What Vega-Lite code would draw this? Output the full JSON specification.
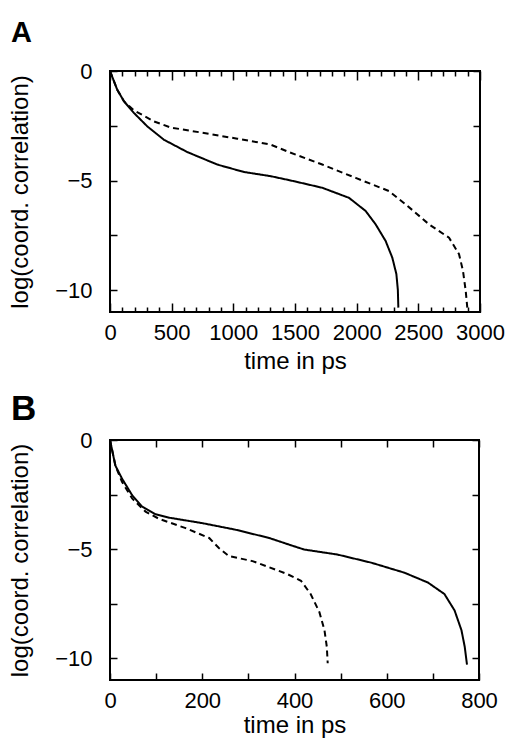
{
  "$schema": "https://vega.github.io/schema/vega-lite/v6.json",
  "background": "white",
  "padding": {"left": 7, "top": 18, "right": 10, "bottom": 0},
  "spacing": 17,
  "config": {
    "font": "Liberation Sans",
    "view": {"stroke": "black", "strokeWidth": 2},
    "axis": {
      "grid": false, "domain": false,
      "labelFont": "Liberation Sans", "labelFontSize": 22, "labelColor": "black",
      "titleFont": "Liberation Sans", "titleFontSize": 24, "titleFontWeight": "normal", "titleColor": "black",
      "tickColor": "black", "tickWidth": 1.5,
      "labelFlush": false, "labelOverlap": false, "minExtent": 0
    },
    "title": {"font": "Liberation Sans", "fontWeight": "bold", "color": "black", "anchor": "start", "frame": "group"}
  },
  "datasets": {
    "A": [
      {"t": 0, "v": 0, "s": "solid"},
      {"t": 59, "v": -0.86, "s": "solid"},
      {"t": 114, "v": -1.39, "s": "solid"},
      {"t": 195, "v": -1.92, "s": "solid"},
      {"t": 303, "v": -2.53, "s": "solid"},
      {"t": 438, "v": -3.14, "s": "solid"},
      {"t": 627, "v": -3.7, "s": "solid"},
      {"t": 870, "v": -4.27, "s": "solid"},
      {"t": 1086, "v": -4.61, "s": "solid"},
      {"t": 1303, "v": -4.8, "s": "solid"},
      {"t": 1492, "v": -5.03, "s": "solid"},
      {"t": 1721, "v": -5.33, "s": "solid"},
      {"t": 1938, "v": -5.79, "s": "solid"},
      {"t": 2073, "v": -6.39, "s": "solid"},
      {"t": 2154, "v": -7.0, "s": "solid"},
      {"t": 2235, "v": -7.76, "s": "solid"},
      {"t": 2289, "v": -8.52, "s": "solid"},
      {"t": 2322, "v": -9.27, "s": "solid"},
      {"t": 2334, "v": -10.0, "s": "solid"},
      {"t": 2338, "v": -10.8, "s": "solid"},
      {"t": 0, "v": 0, "s": "dashed"},
      {"t": 59, "v": -0.86, "s": "dashed"},
      {"t": 114, "v": -1.39, "s": "dashed"},
      {"t": 195, "v": -1.8, "s": "dashed"},
      {"t": 357, "v": -2.3, "s": "dashed"},
      {"t": 492, "v": -2.58, "s": "dashed"},
      {"t": 762, "v": -2.83, "s": "dashed"},
      {"t": 1032, "v": -3.09, "s": "dashed"},
      {"t": 1303, "v": -3.36, "s": "dashed"},
      {"t": 1451, "v": -3.7, "s": "dashed"},
      {"t": 1721, "v": -4.27, "s": "dashed"},
      {"t": 1992, "v": -4.88, "s": "dashed"},
      {"t": 2262, "v": -5.48, "s": "dashed"},
      {"t": 2398, "v": -6.09, "s": "dashed"},
      {"t": 2587, "v": -7.0, "s": "dashed"},
      {"t": 2749, "v": -7.61, "s": "dashed"},
      {"t": 2830, "v": -8.36, "s": "dashed"},
      {"t": 2862, "v": -9.12, "s": "dashed"},
      {"t": 2884, "v": -10.03, "s": "dashed"},
      {"t": 2897, "v": -10.8, "s": "dashed"}
    ],
    "B": [
      {"t": 0, "v": 0, "s": "solid"},
      {"t": 11.6, "v": -1.17, "s": "solid"},
      {"t": 26, "v": -1.77, "s": "solid"},
      {"t": 48, "v": -2.53, "s": "solid"},
      {"t": 70, "v": -3.06, "s": "solid"},
      {"t": 98, "v": -3.4, "s": "solid"},
      {"t": 128, "v": -3.56, "s": "solid"},
      {"t": 200, "v": -3.81, "s": "solid"},
      {"t": 272, "v": -4.11, "s": "solid"},
      {"t": 345, "v": -4.49, "s": "solid"},
      {"t": 396, "v": -4.85, "s": "solid"},
      {"t": 421, "v": -5.02, "s": "solid"},
      {"t": 493, "v": -5.25, "s": "solid"},
      {"t": 566, "v": -5.62, "s": "solid"},
      {"t": 638, "v": -6.08, "s": "solid"},
      {"t": 689, "v": -6.53, "s": "solid"},
      {"t": 725, "v": -7.06, "s": "solid"},
      {"t": 747, "v": -7.81, "s": "solid"},
      {"t": 762, "v": -8.72, "s": "solid"},
      {"t": 769, "v": -9.47, "s": "solid"},
      {"t": 774, "v": -10.3, "s": "solid"},
      {"t": 0, "v": 0, "s": "dashed"},
      {"t": 12, "v": -1.2, "s": "dashed"},
      {"t": 26, "v": -1.92, "s": "dashed"},
      {"t": 48, "v": -2.68, "s": "dashed"},
      {"t": 77, "v": -3.28, "s": "dashed"},
      {"t": 106, "v": -3.61, "s": "dashed"},
      {"t": 164, "v": -4.04, "s": "dashed"},
      {"t": 215, "v": -4.49, "s": "dashed"},
      {"t": 236, "v": -4.95, "s": "dashed"},
      {"t": 258, "v": -5.32, "s": "dashed"},
      {"t": 309, "v": -5.55, "s": "dashed"},
      {"t": 385, "v": -6.15, "s": "dashed"},
      {"t": 414, "v": -6.45, "s": "dashed"},
      {"t": 435, "v": -7.06, "s": "dashed"},
      {"t": 454, "v": -7.89, "s": "dashed"},
      {"t": 465, "v": -8.72, "s": "dashed"},
      {"t": 470, "v": -9.47, "s": "dashed"},
      {"t": 472, "v": -10.23, "s": "dashed"}
    ]
  },
  "vconcat": [
    {
      "title": {"text": "A", "fontSize": 29, "dx": -99, "offset": -17, "baseline": "bottom"},
      "width": 370,
      "height": 241,
      "data": {"name": "A"},
      "layer": [
        {
          "mark": {"type": "line", "strokeWidth": 2, "color": "black", "clip": true},
          "encoding": {
            "x": {"field": "t", "type": "quantitative", "scale": {"domain": [0, 3000], "nice": false},
              "axis": {"orient": "bottom", "title": "time in ps", "titlePadding": 2,
                "values": [0,100,200,300,400,500,600,700,800,900,1000,1100,1200,1300,1400,1500,1600,1700,1800,1900,2000,2100,2200,2300,2400,2500,2600,2700,2800,2900,3000],
                "tickSize": {"condition": {"test": "datum.value % 500 === 0", "value": -9}, "value": -5},
                "labelPadding": 19,
                "labelExpr": "datum.value % 500 === 0 ? toString(datum.value) : ''"}},
            "y": {"field": "v", "type": "quantitative", "scale": {"domain": [-11, 0], "nice": false},
              "axis": {"orient": "left", "title": "log(coord. correlation)", "titlePadding": 22,
                "values": [-10, -7.5, -5, -2.5, 0], "tickSize": -7, "labelPadding": 25,
                "labelExpr": "datum.value === 0 ? '0' : datum.value === -5 ? '\u22125' : datum.value === -10 ? '\u221210' : ''"}},
            "strokeDash": {"field": "s", "type": "nominal", "legend": null,
              "scale": {"domain": ["solid", "dashed"], "range": [[1, 0], [6, 4]]}}
          }
        },
        {
          "mark": {"type": "line", "opacity": 0},
          "encoding": {
            "x": {"field": "t", "type": "quantitative",
              "axis": {"orient": "top", "title": null, "labels": false, "maxExtent": 0,
                "values": [0,100,200,300,400,500,600,700,800,900,1000,1100,1200,1300,1400,1500,1600,1700,1800,1900,2000,2100,2200,2300,2400,2500,2600,2700,2800,2900,3000],
                "tickSize": {"condition": {"test": "datum.value % 500 === 0", "value": -9}, "value": -5}}},
            "y": {"field": "v", "type": "quantitative",
              "axis": {"orient": "right", "title": null, "labels": false, "maxExtent": 0,
                "values": [-10, -7.5, -5, -2.5, 0], "tickSize": -7}},
            "detail": {"field": "s", "type": "nominal"}
          }
        }
      ],
      "resolve": {"axis": {"x": "independent", "y": "independent"}}
    },
    {
      "title": {"text": "B", "fontSize": 35, "dx": -99, "offset": -33, "baseline": "bottom"},
      "width": 369,
      "height": 240,
      "data": {"name": "B"},
      "layer": [
        {
          "mark": {"type": "line", "strokeWidth": 2, "color": "black", "clip": true},
          "encoding": {
            "x": {"field": "t", "type": "quantitative", "scale": {"domain": [0, 800], "nice": false},
              "axis": {"orient": "bottom", "title": "time in ps", "titlePadding": 2,
                "values": [0,100,200,300,400,500,600,700,800],
                "tickSize": -7,
                "labelPadding": 17,
                "labelExpr": "datum.value % 200 === 0 ? toString(datum.value) : ''"}},
            "y": {"field": "v", "type": "quantitative", "scale": {"domain": [-11, 0], "nice": false},
              "axis": {"orient": "left", "title": "log(coord. correlation)", "titlePadding": 22,
                "values": [-10, -7.5, -5, -2.5, 0], "tickSize": -7, "labelPadding": 25,
                "labelExpr": "datum.value === 0 ? '0' : datum.value === -5 ? '\u22125' : datum.value === -10 ? '\u221210' : ''"}},
            "strokeDash": {"field": "s", "type": "nominal", "legend": null,
              "scale": {"domain": ["solid", "dashed"], "range": [[1, 0], [6, 4]]}}
          }
        },
        {
          "mark": {"type": "line", "opacity": 0},
          "encoding": {
            "x": {"field": "t", "type": "quantitative",
              "axis": {"orient": "top", "title": null, "labels": false, "maxExtent": 0,
                "values": [0,100,200,300,400,500,600,700,800], "tickSize": -7}},
            "y": {"field": "v", "type": "quantitative",
              "axis": {"orient": "right", "title": null, "labels": false, "maxExtent": 0,
                "values": [-10, -7.5, -5, -2.5, 0], "tickSize": -7}},
            "detail": {"field": "s", "type": "nominal"}
          }
        }
      ],
      "resolve": {"axis": {"x": "independent", "y": "independent"}}
    }
  ]
}
